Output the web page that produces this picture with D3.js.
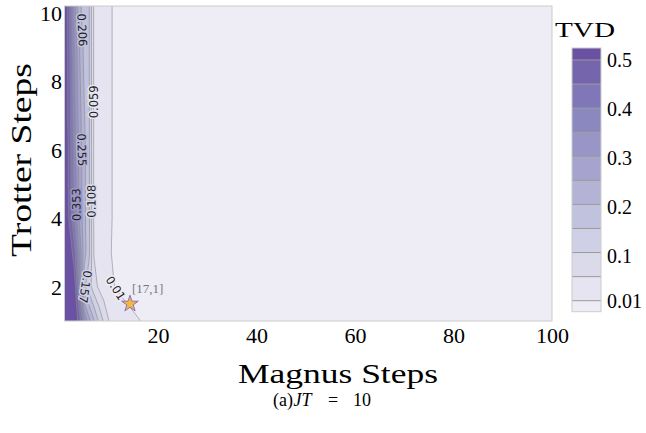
<!DOCTYPE html>
<html><head><meta charset="utf-8">
<script src="https://cdn.jsdelivr.net/npm/d3@7"></script>
<style>body{margin:0;background:#fff}</style>
</head><body>
<svg id="c" width="646" height="433" xmlns="http://www.w3.org/2000/svg"></svg>
<script>
// ---------- data ----------
const magnusSteps = [1,2,3,4,5,6,7,8,9,10,11,12,13,14,15,16,17,18,19,20];
const trotterSteps = [1,2,3,4,5,6,7,8,9,10];
// TVD for each trotter step, over magnusSteps (beyond 20 it stays below 0.01)
const tvdT1  = [0.56,0.555,0.54,0.48,0.36,0.27,0.21,0.15,0.10,0.06,0.03,0.0191,0.0153,0.0133,0.0119,0.0105,0.009,0.007,0.006,0.005];
const tvdT2  = [0.56,0.55,0.53,0.38,0.165,0.13,0.08,0.05,0.03,0.018,0.0105,0.008,0.007,0.006,0.005,0.005,0.004,0.004,0.004,0.004];
const tvdT3  = [0.56,0.54,0.47,0.35,0.23,0.165,0.055,0.04,0.025,0.012,0.008,0.006,0.005,0.005,0.004,0.004,0.004,0.003,0.003,0.003];
const tvdT4  = [0.56,0.49,0.40,0.30,0.22,0.165,0.05,0.038,0.026,0.014,0.008,0.007,0.006,0.005,0.005,0.004,0.004,0.004,0.003,0.003];
const tvdT5  = [0.56,0.48,0.39,0.29,0.22,0.164,0.05,0.038,0.026,0.014,0.008,0.007,0.006,0.005,0.005,0.004,0.004,0.004,0.003,0.003];
const tvdT6  = [0.56,0.48,0.38,0.29,0.22,0.163,0.05,0.037,0.025,0.014,0.008,0.007,0.006,0.005,0.005,0.004,0.004,0.004,0.003,0.003];
const tvdT7  = [0.55,0.47,0.37,0.28,0.21,0.162,0.05,0.037,0.025,0.014,0.008,0.007,0.006,0.005,0.005,0.004,0.004,0.004,0.003,0.003];
const tvdT8  = [0.55,0.47,0.36,0.27,0.20,0.162,0.05,0.037,0.025,0.014,0.008,0.007,0.006,0.005,0.005,0.004,0.004,0.004,0.003,0.003];
const tvdT9  = [0.55,0.46,0.35,0.26,0.19,0.161,0.05,0.037,0.025,0.014,0.008,0.007,0.006,0.005,0.005,0.004,0.004,0.004,0.003,0.003];
const tvdT10 = [0.55,0.46,0.34,0.22,0.185,0.16,0.05,0.037,0.025,0.014,0.008,0.007,0.006,0.005,0.005,0.004,0.004,0.004,0.003,0.003];
const tvdRows = [tvdT1,tvdT2,tvdT3,tvdT4,tvdT5,tvdT6,tvdT7,tvdT8,tvdT9,tvdT10];

const levels = [0.01,0.059,0.108,0.157,0.206,0.255,0.304,0.353,0.402,0.451,0.5];
const xTicks = [20,40,60,80,100];
const yTicks = [2,4,6,8,10];
const cbTicks = [0.5,0.4,0.3,0.2,0.1,0.01];
const labelLevels = [0.206,0.059,0.255,0.353,0.108,0.157,0.01];
const labelTrotter = [9.5,7.4,6.0,4.4,4.5,2.0,1.96];
const labelFlip = [false,true,false,true,true,false,false];
const bestPoint = {m:14.3, t:1.5, text:"[17,1]"};

// ---------- layout ----------
const svg = d3.select("#c");
const x = d3.scaleLinear([1,100],[64.5,552]);
const y = d3.scaleLinear([1,10.2],[321,6]);
const bandColors = d3.range(levels.length+1).map(i => d3.interpolatePurples(0.125 + i*0.625/levels.length));
const serif = "'Liberation Serif','Times New Roman',serif";

svg.append("defs").append("clipPath").attr("id","pc")
  .append("rect").attr("x",x(1)).attr("y",y(10.2)).attr("width",x(100)-x(1)).attr("height",y(1)-y(10.2));

svg.append("rect").attr("x",x(1)).attr("y",y(10.2)).attr("width",x(100)-x(1)).attr("height",y(1)-y(10.2))
  .attr("fill",bandColors[0]);

// padded grid (edge replication so the grid boundary falls outside the plot)
const nx = magnusSteps.length + 2, ny = trotterSteps.length + 2;
const grid = new Array(nx*ny);
for (let j=0;j<ny;j++){
  const r = tvdRows[Math.max(0,Math.min(trotterSteps.length-1,j-1))];
  for (let i=0;i<nx;i++){
    grid[j*nx+i] = r[Math.max(0,Math.min(magnusSteps.length-1,i-1))];
  }
}
const m0 = magnusSteps[0]-1, t0 = trotterSteps[0]-1;
const toPx = p => [x(m0 + p[0]-0.5), y(t0 + p[1]-0.5)];
const contours = d3.contours().size([nx,ny]).thresholds(levels)(grid);
const path = d3.geoPath(d3.geoTransform({point(px,py){const q=toPx([px,py]); this.stream.point(q[0],q[1]);}}));

const gPlot = svg.append("g").attr("clip-path","url(#pc)");
gPlot.selectAll("path.fill").data(contours).join("path").attr("class","fill")
  .attr("d",path).attr("fill",(d,i)=>bandColors[i+1]).attr("stroke","none");
gPlot.selectAll("path.line").data(contours).join("path").attr("class","line")
  .attr("d",path).attr("fill","none").attr("stroke","#8a8a8a").attr("stroke-width",0.7).attr("stroke-opacity",0.85);

// contour labels
function findOnContour(c, t){
  const yT = y(t); let best=null;
  c.coordinates.forEach(poly=>poly.forEach(ring=>{
    for(let k=0;k<ring.length-1;k++){
      const a=toPx(ring[k]), b=toPx(ring[k+1]);
      if((a[1]-yT)*(b[1]-yT)<=0 && a[1]!==b[1]){
        const f=(yT-a[1])/(b[1]-a[1]); const px=a[0]+f*(b[0]-a[0]);
        if(px>x(1)+2 && px<x(100) && (!best || px<best.x)){
          best={x:px,y:yT,ang:Math.atan2(b[1]-a[1],b[0]-a[0])*180/Math.PI};
        }
      }
    }
  }));
  return best;
}
labelLevels.forEach((lv,i)=>{
  const k = levels.findIndex(v=>Math.abs(v-lv)<1e-9);
  const p = findOnContour(contours[k], labelTrotter[i]);
  if(!p) return;
  let a = p.ang;
  if(labelFlip[i]){ while(a>=0) a-=180; while(a<-180) a+=180; }
  else { while(a<0) a+=180; while(a>=180) a-=180; }
  svg.append("text").attr("transform",`translate(${p.x},${p.y}) rotate(${a})`)
    .attr("text-anchor","middle").attr("dy","0.35em")
    .attr("font-family","'DejaVu Sans',sans-serif").attr("font-size",11.5)
    .attr("fill","#222").attr("stroke",bandColors[k]).attr("stroke-width",3)
    .attr("paint-order","stroke")
    .text(String(lv));
});

// best point
svg.append("path").attr("d",d3.symbol(d3.symbolStar,85)())
  .attr("transform",`translate(${x(bestPoint.m)},${y(bestPoint.t)})`)
  .attr("fill","#f6b73c").attr("stroke","#8a70c0").attr("stroke-width",1);
svg.append("text").attr("x",x(bestPoint.m)+2).attr("y",y(bestPoint.t)-11)
  .attr("font-family",serif).attr("font-size",13).attr("fill","#777").text(bestPoint.text);

// frame
svg.append("rect").attr("x",x(1)).attr("y",y(10.2)).attr("width",x(100)-x(1)).attr("height",y(1)-y(10.2))
  .attr("fill","none").attr("stroke","#cccccc").attr("stroke-width",1);

// axes
const gx = svg.append("g").attr("transform",`translate(0,${y(1)})`)
  .call(d3.axisBottom(x).tickValues(xTicks).tickSize(0).tickPadding(0));
gx.select(".domain").remove();
gx.selectAll("text").attr("dy",null).attr("y",22).attr("font-family",serif).attr("font-size",22).attr("fill","#000");
const gy = svg.append("g").attr("transform",`translate(${x(1)},0)`)
  .call(d3.axisLeft(y).tickValues(yTicks).tickSize(0).tickPadding(2.5));
gy.select(".domain").remove();
gy.selectAll("text").attr("dy","0.33em").attr("font-family",serif).attr("font-size",22).attr("fill","#000");

// axis titles
svg.append("text").attr("x",338).attr("y",383).attr("text-anchor","middle")
  .attr("font-family",serif).attr("font-size",28).attr("textLength",200).attr("lengthAdjust","spacingAndGlyphs")
  .text("Magnus Steps");
svg.append("text").attr("transform","translate(31,160) rotate(-90)").attr("text-anchor","middle")
  .attr("font-family",serif).attr("font-size",28.5).attr("textLength",194).attr("lengthAdjust","spacingAndGlyphs")
  .text("Trotter Steps");
const cap = svg.append("text").attr("y",406).attr("font-family",serif).attr("font-size",18);
cap.append("tspan").attr("x",273).text("(a)");
cap.append("tspan").attr("x",293.5).attr("font-style","italic").text("JT");
cap.append("tspan").attr("x",328).text("=");
cap.append("tspan").attr("x",353).text("10");

// colorbar
const cbX = 572, cbW = 29;
const cbY = d3.scaleLinear([levels[0], levels[levels.length-1]],[300.7,60]);
const cbEdges = [311.7, ...levels.map(cbY), 48];
const gcb = svg.append("g");
bandColors.forEach((c,i)=>{
  gcb.append("rect").attr("x",cbX).attr("y",cbEdges[i+1]).attr("width",cbW)
    .attr("height",cbEdges[i]-cbEdges[i+1]).attr("fill",c);
});
levels.forEach(v=>{
  gcb.append("line").attr("x1",cbX).attr("x2",cbX+cbW).attr("y1",cbY(v)).attr("y2",cbY(v))
    .attr("stroke","#999").attr("stroke-width",1);
});
gcb.append("rect").attr("x",cbX).attr("y",48).attr("width",cbW).attr("height",311.7-48)
  .attr("fill","none").attr("stroke","#cccccc").attr("stroke-width",1);
cbTicks.forEach(v=>{
  gcb.append("text").attr("x",607).attr("y",cbY(v)).attr("dy","0.35em")
    .attr("font-family",serif).attr("font-size",20).text(String(v));
});
svg.append("text").attr("x",555).attr("y",37).attr("font-family",serif).attr("font-size",22)
  .attr("textLength",60).attr("lengthAdjust","spacingAndGlyphs").text("TVD");
</script>
</body></html>
